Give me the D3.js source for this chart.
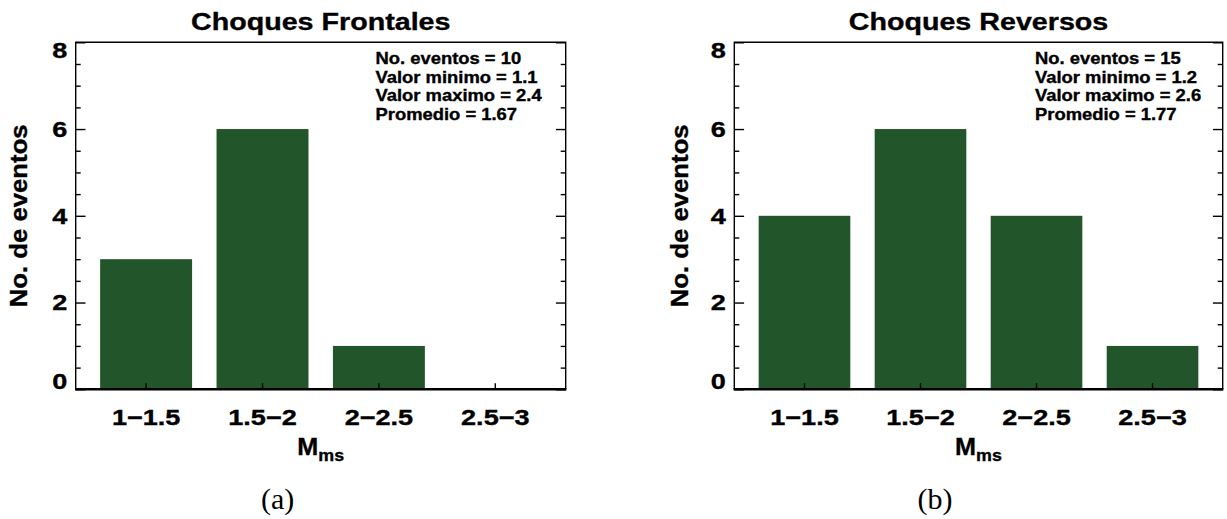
<!DOCTYPE html>
<html>
<head>
<meta charset="utf-8">
<script src="https://cdn.jsdelivr.net/npm/d3@7"></script>
<style>
  body { margin: 0; background: #fff; }
  svg { display: block; }
  text.sans { font-family: "Liberation Sans", Arial, Helvetica, sans-serif; font-weight: bold; fill: #000; stroke: #000; stroke-width: 0.35px; }
  text.serif { font-family: "Liberation Serif", "Times New Roman", serif; fill: #000; }
</style>
</head>
<body>
<svg id="fig" width="1227" height="519"></svg>
<script>
// Magnitude bins (M_ms) shared by both histograms
const categories = ["1−1.5", "1.5−2", "2−2.5", "2.5−3"];

// Event counts per bin
const frontalCounts = [3, 6, 1, 0];
const reverseCounts = [4, 6, 4, 1];

// Y axis ticks
const yMajorTicks = [0, 2, 4, 6, 8];
const yTickLabels = ["0", "2", "4", "6", "8"];
const yMinorTicks = [0.5, 1, 1.5, 2.5, 3, 3.5, 4.5, 5, 5.5, 6.5, 7, 7.5];

// Summary boxes
const frontalStats = ["No. eventos = 10", "Valor minimo = 1.1", "Valor maximo = 2.4", "Promedio = 1.67"];
const reverseStats = ["No. eventos = 15", "Valor minimo = 1.2", "Valor maximo = 2.6", "Promedio = 1.77"];

const panelTitles = ["Choques Frontales", "Choques Reversos"];
const captions = ["(a)", "(b)"];
const yTitle = "No. de eventos";
const xTitleMain = "M";
const xTitleSub = "ms";

const BAR_COLOR = "#23552b";
const TOP = 42.3, BOTTOM = 389.3;

const panels = [
  { counts: frontalCounts, stats: frontalStats, title: panelTitles[0], caption: captions[0],
    x0: 75.7, x1: 565.7, statsX: 375.5, yTitleX: 27, captionX: 277.7 },
  { counts: reverseCounts, stats: reverseStats, title: panelTitles[1], caption: captions[1],
    x0: 734.3, x1: 1222.7, statsX: 1035, yTitleX: 688, captionX: 935 }
];

const svg = d3.select("#fig");

// Text helper: horizontally widened bold sans text anchored at (x, y)
function label(g, str, x, y, size, k, anchor, extra) {
  return g.append("text")
    .attr("class", "sans")
    .attr("text-anchor", anchor || "start")
    .attr("transform", `translate(${x},${y})${extra || ""} scale(${k},1)`)
    .style("font-size", size + "px")
    .text(str);
}

panels.forEach(p => {
  const g = svg.append("g");

  const x = d3.scaleBand()
    .domain(categories)
    .range([p.x0, p.x1])
    .paddingInner(0.21)
    .paddingOuter(0.21);

  const y = d3.scaleLinear().domain([0, 8]).range([BOTTOM, TOP]);

  // Bars
  g.selectAll("rect.bar")
    .data(categories.map((c, i) => ({ c, v: p.counts[i] })))
    .join("rect")
    .attr("class", "bar")
    .attr("x", d => x(d.c))
    .attr("width", x.bandwidth())
    .attr("y", d => y(d.v))
    .attr("height", d => y(0) - y(d.v))
    .attr("fill", BAR_COLOR);

  // Frame (top, left, right)
  g.append("path")
    .attr("d", `M${p.x0},${BOTTOM}V${TOP}H${p.x1}V${BOTTOM}`)
    .attr("fill", "none")
    .attr("stroke", "#000")
    .attr("stroke-width", 1.4);

  // Y axes: inward ticks on both sides
  const yLeftMajor = d3.axisLeft(y).tickValues(yMajorTicks).tickSize(-9.8).tickFormat("");
  const yLeftMinor = d3.axisLeft(y).tickValues(yMinorTicks).tickSize(-5).tickFormat("");
  const yRightMajor = d3.axisRight(y).tickValues(yMajorTicks).tickSize(-9.8).tickFormat("");
  const yRightMinor = d3.axisRight(y).tickValues(yMinorTicks).tickSize(-5).tickFormat("");

  [[yLeftMajor, p.x0], [yLeftMinor, p.x0], [yRightMajor, p.x1], [yRightMinor, p.x1]].forEach(([ax, tx]) => {
    const a = g.append("g").attr("transform", `translate(${tx},0)`).call(ax);
    a.select(".domain").remove();
    a.selectAll(".tick line").attr("stroke", "#000").attr("stroke-width", 1.4);
  });

  // X axis: ticks at bin centres, pointing inward
  const xAxis = d3.axisBottom(x).tickSize(-6).tickFormat("");
  const xa = g.append("g").attr("transform", `translate(0,${BOTTOM})`).call(xAxis);
  xa.select(".domain").remove();
  xa.selectAll(".tick line").attr("stroke", "#000").attr("stroke-width", 1.4);

  // Bottom axis line (heavier)
  g.append("line")
    .attr("x1", p.x0 - 0.7).attr("x2", p.x1 + 0.7)
    .attr("y1", BOTTOM).attr("y2", BOTTOM)
    .attr("stroke", "#000").attr("stroke-width", 2.4);

  // Y tick labels (end labels kept inside the frame height)
  yMajorTicks.forEach((v, i) => {
    let by = y(v) + 7.9;
    if (v === 8) by = y(v) + 15.6;
    if (v === 0) by = y(v) - 0.3;
    label(g, yTickLabels[i], p.x0 - 8.5, by, 22, 1.23, "end");
  });

  // X tick labels
  categories.forEach(c => {
    label(g, c, x(c) + x.bandwidth() / 2, 425, 22, 1.23, "middle");
  });

  // X axis title with subscript
  const cx = (p.x0 + p.x1) / 2;
  const xt = g.append("text")
    .attr("class", "sans")
    .attr("text-anchor", "middle")
    .attr("transform", `translate(${cx},455) scale(1.05,1)`)
    .style("font-size", "24px");
  xt.append("tspan").text(xTitleMain);
  xt.append("tspan").attr("dy", 6).style("font-size", "17px").text(xTitleSub);

  // Y axis title
  label(g, yTitle, p.yTitleX, (TOP + BOTTOM) / 2, 24.5, 1.05, "middle", " rotate(-90)");

  // Panel title
  label(g, p.title, cx, 29.5, 24.5, 1.17, "middle");

  // Summary box
  p.stats.forEach((s, i) => {
    label(g, s, p.statsX, 64 + i * 18.5, 16, 1.15, "start");
  });

  // Caption
  g.append("text")
    .attr("class", "serif")
    .attr("text-anchor", "middle")
    .attr("x", p.captionX)
    .attr("y", 509)
    .style("font-size", "30px")
    .text(p.caption);
});
</script>
</body>
</html>
